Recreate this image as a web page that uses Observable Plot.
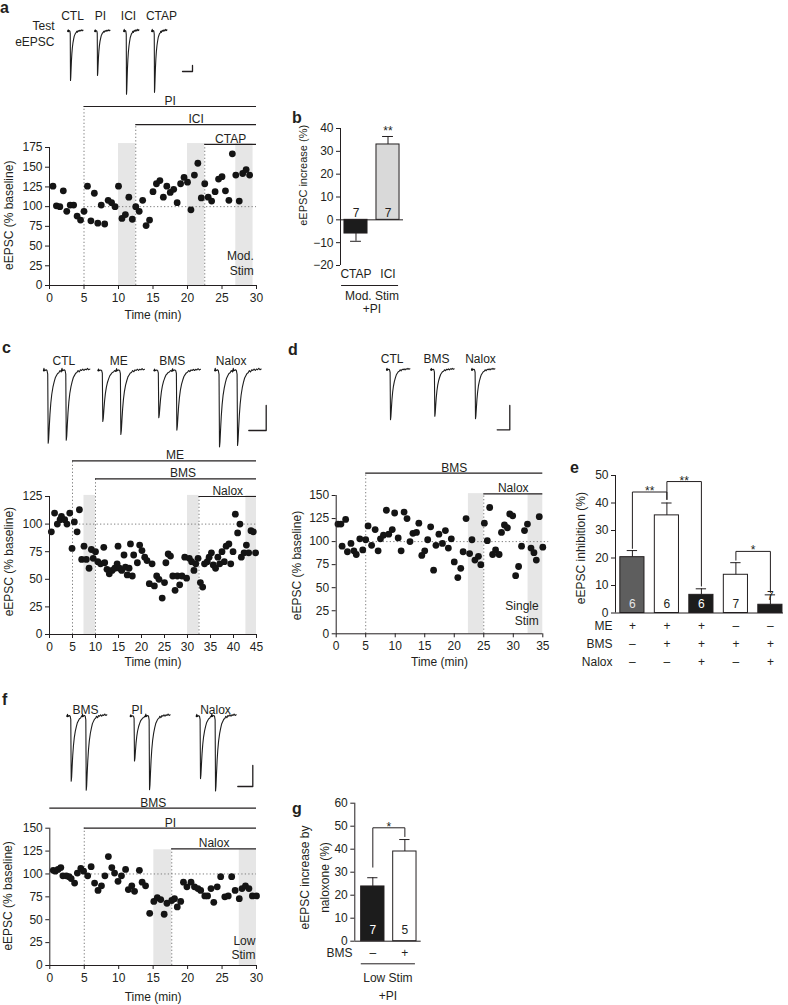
<!DOCTYPE html>
<html><head><meta charset="utf-8">
<script src="https://cdn.jsdelivr.net/npm/d3@7"></script>
<script src="https://cdn.jsdelivr.net/npm/@observablehq/plot@0.6"></script>
<style>
html,body{margin:0;padding:0;background:#fff;}
#fig{position:relative;width:788px;height:1005px;overflow:hidden;background:#fff;font-family:"Liberation Sans",Arial,Helvetica,sans-serif;color:#231f20;}
.letter{position:absolute;font-weight:bold;font-size:16px;line-height:1;}
</style></head><body><div id="fig"></div>
<script>
// ---------- waveform template (fraction of peak amplitude) ----------
const traceTime  = [-4,-3.6,-3.2,-2.6,-1.8,-1.0,-0.4,0,0.4,0.9,1.5,2.2,3.0,4.0,5.0,6.0,7.0,8.0,9.0,10.0,11.0,12.0,13.0,14.0,15.0,16.0,17.0,18.0,19.0,20.0];
const traceShape = [0,0.03,0,0,0.01,0,-0.05,-1,-0.94,-0.78,-0.6,-0.45,-0.33,-0.23,-0.16,-0.1,-0.07,-0.04,-0.03,0,-0.02,0.01,0,0.02,0,0.02,0.01,0.03,0.01,0.02];

// ---------- panel a ----------
const aTraceLabels = ["CTL","PI","ICI","CTAP"];
const aTraceAmp = [[100],[90],[128],[124]];
const aTime = [0.5,1,1.5,2,2.5,3,3.5,4,4.5,5,5.5,6,6.5,7,7.5,8,8.5,9,9.5,10,10.5,11,11.5,12,12.5,13,13.5,14,14.5,15,15.5,16,16.5,17,17.5,18,18.5,19,19.5,20,20.5,21,21.5,22,22.5,23,23.5,24,24.5,25,25.5,26,26.5,27,27.5,28,28.5,29];
const aValue = [126,101,100,120,94,102,102,88,83,94,126,82,117,79,102,78,108,105,100,126,85,90,112,84,100,94,108,76,83,119,129,133,112,126,118,122,105,129,137,131,96,140,155,111,129,112,107,119,135,138,120,108,167,140,107,142,147,140];
const aShadeStart = [10,20,27], aShadeEnd = [12.5,22.5,29.5];
const aDrugs = ["PI","ICI","CTAP"], aDrugStart = [5,12.5,22.5];
const aXTicks = [0,5,10,15,20,25,30], aYTicks = [0,25,50,75,100,125,150,175];

// ---------- panel b ----------
const bCats = ["CTAP","ICI"], bMean = [-6,33], bSem = [3.4,3.5], bN = [7,7], bSig = ["","**"];
const bYTicks = [-20,-10,0,10,20,30,40];

// ---------- panel c ----------
const cTraceLabels = ["CTL","ME","BMS","Nalox"];
const cTraceAmp = [[100,96],[70,88],[65,82],[105,103]];
const cTime = [0.4,1.1,1.7,2.3,2.6,3.3,3.8,4.4,4.9,5.4,6.0,6.5,7.0,7.5,8.0,8.6,9.1,9.5,10.0,10.5,11.1,11.8,12.0,12.5,13.0,13.6,14.2,14.7,14.9,15.2,15.7,16.2,16.5,16.9,17.3,17.6,18.0,18.3,19.1,19.6,20.1,20.7,21.2,21.7,22.3,22.8,23.3,23.8,24.5,25.0,25.3,25.8,26.3,26.8,27.3,27.8,28.3,28.8,29.4,29.8,30.4,30.9,31.4,31.8,32.3,32.8,33.3,33.7,34.3,34.7,35.2,35.6,36.1,36.6,37.0,37.5,38.0,38.4,39.0,39.4,39.9,40.4,40.9,41.4,41.7,42.3,42.8,43.3,43.8,44.3,44.8];
const cValue = [93,110,100,104,107,104,100,110,78,102,93,113,68,80,68,60,77,69,75,66,64,79,65,59,55,58,60,64,80,60,58,72,61,54,60,82,53,72,65,81,76,70,67,46,64,44,53,50,33,47,65,73,71,53,40,53,45,53,70,51,69,66,58,64,69,47,43,64,66,70,74,63,60,70,64,75,66,80,82,64,75,109,92,100,70,74,81,74,94,93,74];
const cShadeStart = [7.5,30,42.7], cShadeEnd = [10,32.5,45];
const cDrugs = ["ME","BMS","Nalox"], cDrugStart = [5,10,32.5];
const cXTicks = [0,5,10,15,20,25,30,35,40,45], cYTicks = [0,25,50,75,100,125];

// ---------- panel d ----------
const dTraceLabels = ["CTL","BMS","Nalox"];
const dTraceAmp = [[100],[93],[98]];
const dTime = [0.3,0.8,1.0,1.6,1.9,2.5,3.0,3.4,4.0,4.5,5.0,5.4,6.0,6.6,7.1,7.5,8.0,8.5,8.9,9.5,9.9,10.5,11.0,11.5,12.0,12.5,13.0,13.6,14.0,14.5,15.0,15.5,16.0,16.5,16.9,17.4,18.0,18.5,19.0,19.5,20.0,20.6,21.1,21.5,22.0,22.6,23.0,23.5,24.1,24.5,25.1,25.6,26.0,26.5,27.0,27.6,28.0,28.5,29.0,29.4,29.9,30.4,30.9,31.4,31.9,32.4,33.0,33.5,33.9,34.4,35.0];
const dValue = [119,119,95,124,89,98,90,86,103,91,102,117,96,113,90,103,107,134,108,113,131,104,90,132,125,100,109,110,120,85,90,102,116,69,96,108,98,112,93,103,78,61,71,89,125,87,102,80,84,75,120,101,137,86,91,86,110,118,115,130,128,63,73,95,112,119,93,88,80,127,94];
const dShadeStart = [22.4,32.5], dShadeEnd = [25,35];
const dDrugs = ["BMS","Nalox"], dDrugStart = [5,25];
const dXTicks = [0,5,10,15,20,25,30,35], dYTicks = [0,25,50,75,100,125,150];

// ---------- panel e ----------
const eMean = [20.3,35.5,6.6,13.9,3], eSem = [2.4,4.5,2.2,4.4,3.6], eN = [6,6,6,7,7];
const eME = ["+","+","+","–","–"], eBMS = ["–","+","+","+","+"], eNalox = ["–","–","+","–","+"];
const eBrFrom = [0,1,3], eBrTo = [1,2,4], eBrTop = [44,47.8,22.4], eBrLegFrom = [23.5,41.3,19.2], eBrLegTo = [41.3,9.8,7.5], eBrStar = ["**","**","*"];
const eYTicks = [0,10,20,30,40,50];

// ---------- panel f ----------
const fTraceLabels = ["BMS","PI","Nalox"];
const fTraceAmp = [[100,114],[69,113],[96,115]];
const fTime = [0.5,0.8,1.2,1.6,1.9,2.4,2.8,3.1,3.6,4.0,4.5,4.9,5.5,6.0,6.5,7.0,7.5,8.0,8.5,9.0,9.4,9.9,10.4,11.0,11.4,11.9,12.3,13.0,13.4,13.9,14.5,15.1,15.6,16.1,16.6,17.0,17.7,18.1,18.5,19.0,19.4,19.9,20.5,21.0,21.5,21.9,22.5,22.9,23.4,23.8,24.3,24.8,25.4,25.9,26.4,26.9,27.5,27.9,28.4,28.9,29.4,30.0];
const fValue = [104,103,105,107,98,98,97,95,90,101,106,103,98,108,90,82,87,98,119,107,101,92,98,105,83,87,81,104,91,87,57,70,74,72,56,68,71,73,64,70,91,86,91,86,84,82,76,76,84,69,86,97,75,76,97,82,73,84,87,84,76,76];
const fShadeStart = [15.1,27.5], fShadeEnd = [17.7,30];
const fDrugs = ["BMS","PI","Nalox"], fDrugStart = [0,5,17.7];
const fXTicks = [0,5,10,15,20,25,30], fYTicks = [0,25,50,75,100,125,150];

// ---------- panel g ----------
const gMean = [23.8,39], gSem = [3.8,5.2], gN = [7,5], gBMS = ["–","+"];
const gBrFrom = [0], gBrTo = [1], gBrTop = [49.3], gBrLegFrom = [32.2], gBrLegTo = [45.5], gBrStar = ["*"];
const gYTicks = [0,10,20,30,40,50,60];

// ================= rendering =================
const FONT = '"Liberation Sans", Arial, Helvetica, sans-serif';
const INK = "#231f20", SHADE = "#e6e6e6", DOT = "#808080";
const fig = document.getElementById("fig");
const baseStyle = {fontFamily: FONT, fontSize: "12px", color: INK, background: "transparent", overflow: "visible"};
function place(el, left, top){ el.style.position="absolute"; el.style.left=left+"px"; el.style.top=top+"px"; fig.appendChild(el); }

function traceRow(o){
  const b = o.baseline - o.top;
  const toX = px => (px - o.left)/o.pxPerMs;
  const toY = py => (o.baseline - py)/o.pxPerUnit;
  const pts = [], arts = [];
  o.labels.forEach((lab,g)=>{
    const amps = o.amps[g], off = toX(o.dipPx[g]);
    amps.forEach((amp,k)=>{
      const t0 = off + k*o.isi;
      traceTime.forEach((t,j)=>{
        if (k < amps.length-1 && t >= o.isi + traceTime[0]) return;
        pts.push({x:t0+t, y:traceShape[j]*amp, g:lab});
      });
      arts.push({x:t0+traceTime[1], y:0});
    });
  });
  const labels = o.labels.map((l,g)=>({l, x:toX(o.labelPx[g])}));
  const sb = o.bar;
  const bar = [{x:toX(sb.x-sb.w),y:toY(sb.y)},{x:toX(sb.x),y:toY(sb.y)},{x:toX(sb.x),y:toY(sb.y-sb.h)}];
  const marks = [
    Plot.line(pts,{x:"x",y:"y",z:"g",stroke:"#1e1e1e",strokeWidth:1.1}),
    Plot.dot(arts,{x:"x",y:"y",r:1.1,fill:"#111"}),
    Plot.text(labels,{x:"x",y:toY(o.labelY),text:"l"}),
    Plot.line(bar,{x:"x",y:"y",stroke:INK,strokeWidth:1.3})
  ];
  if (o.note) marks.push(Plot.text([o.note.text],{x:toX(o.note.x),y:toY(o.note.y),textAnchor:"end",lineHeight:o.note.lh,text:d=>d}));
  const svg = Plot.plot({width:o.width,height:o.height,margin:0,style:baseStyle,
    x:{domain:[0,o.width/o.pxPerMs],axis:null},
    y:{domain:[-(o.height-b)/o.pxPerUnit,b/o.pxPerUnit],axis:null},marks});
  place(svg,o.left,o.top);
}

function scatterPanel(o){
  const pts = o.t.map((t,i)=>({t, v:o.v[i]}));
  const drugs = o.drugs.map((name,i)=>({name, start:o.drugStart[i], end:o.xMax, level:o.drugLevel[i],
    lx:(o.drugLabelX && o.drugLabelX[i]!=null) ? o.drugLabelX[i] : (o.drugStart[i]+o.xMax)/2}));
  const shades = o.shadeStart.map((s,i)=>({x1:s, x2:o.shadeEnd[i]}));
  const svg = Plot.plot({
    width:o.width, height:o.height, marginLeft:o.ml, marginRight:o.mr, marginTop:o.mt, marginBottom:o.mb,
    style:baseStyle, x:{domain:[0,o.xMax]}, y:{domain:[0,o.yMax]},
    marks:[
      Plot.rectY(shades,{x1:"x1",x2:"x2",y1:0,y2:o.shadeTop,fill:SHADE}),
      Plot.ruleX(drugs.filter(d=>d.start>0),{x:"start",y1:0,y2:"level",stroke:DOT,strokeDasharray:"1.3,2.2"}),
      Plot.ruleY([100],{x1:o.refFrom,x2:o.refTo,stroke:DOT,strokeDasharray:"1.3,2.2"}),
      Plot.ruleY(drugs,{y:"level",x1:"start",x2:"end",stroke:INK,strokeWidth:1.2}),
      Plot.text(drugs,{x:"lx",y:"level",text:"name",lineAnchor:"bottom",dy:-1.5}),
      Plot.dot(pts,{x:"t",y:"v",r:3.4,fill:"#141414"}),
      Plot.ruleX([0],{y1:0,y2:o.yMax,stroke:INK}),
      Plot.ruleY([0],{x1:0,x2:o.xMax,stroke:INK}),
      Plot.axisX(o.xTicks,{tickSize:4,tickPadding:4,label:null}),
      Plot.axisY(o.yTicks,{tickSize:4,tickPadding:3,label:null}),
      Plot.text([o.xLabel],{frameAnchor:"bottom",dy:o.xLabelDy,text:d=>d}),
      Plot.text([o.yLabel],{x:0,y:o.yLabelY,dx:o.yLabelDx,rotate:-90,textAnchor:"middle",lineAnchor:"middle",text:d=>d}),
      Plot.text([o.note],{x:o.noteX,y:o.noteY,textAnchor:"end",lineHeight:1.25,text:d=>d})
    ]
  });
  place(svg,o.left,o.top);
}

function barPanel(o){
  const rows = o.mean.map((m,i)=>({i, m, s:o.sem[i], n:o.n[i], fill:o.fill[i], nc:o.nColor[i]}));
  rows.forEach(d=>{ d.e = d.m + Math.sign(d.m)*d.s; });
  const hw = o.barHalf, cap = o.capHalf, x0 = o.xDom[0];
  const marks = [
    Plot.rectY(rows,{x1:d=>d.i-hw,x2:d=>d.i+hw,y1:0,y2:"m",fill:"fill",stroke:INK,strokeWidth:1}),
    Plot.ruleX(rows,{x:"i",y1:"m",y2:"e",stroke:INK}),
    Plot.ruleY(rows,{y:"e",x1:d=>d.i-cap,x2:d=>d.i+cap,stroke:INK}),
    Plot.ruleY([0],{x1:o.xDom[0],x2:o.xDom[1],stroke:INK}),
    Plot.ruleX([x0],{y1:o.yDom[0],y2:o.yDom[1],stroke:INK}),
    Plot.axisY(o.yTicks,{tickSize:4,tickPadding:3,label:null}),
    Plot.text(rows,{x:"i",y:d=>(d.m>0 && d.m<o.smallBar)?d.m:0,text:"n",fill:"nc",dy:o.nDy}),
    Plot.text([o.yLabel],{x:x0,y:o.yLabelY,dx:o.yLabelDx,rotate:-90,textAnchor:"middle",lineAnchor:"middle",
      lineHeight:o.yLabelLH||1.2,fontSize:o.yLabelSize||12,text:d=>d})
  ];
  if (o.sig) marks.push(Plot.text(rows.filter(d=>o.sig[d.i]),{x:"i",y:"e",text:d=>o.sig[d.i],lineAnchor:"bottom",dy:o.sigDy}));
  if (o.br){
    const segs = [];
    o.br.from.forEach((f,k)=>{
      const t = o.br.to[k], top = o.br.top[k];
      segs.push({k,x:f,y:o.br.legFrom[k]},{k,x:f,y:top},{k,x:t,y:top},{k,x:t,y:o.br.legTo[k]});
    });
    marks.push(Plot.line(segs,{x:"x",y:"y",z:"k",stroke:INK,strokeWidth:1}));
    marks.push(Plot.text(o.br.from.map((f,k)=>({x:(f+o.br.to[k])/2,y:o.br.top[k],s:o.br.star[k]})),
      {x:"x",y:"y",text:"s",lineAnchor:"bottom",dy:o.starDy}));
  }
  if (o.cats) marks.push(Plot.text(rows,{x:"i",y:o.yDom[0],text:d=>o.cats[d.i],dy:o.catDy}));
  (o.signRows||[]).forEach(r=>{
    marks.push(Plot.text(rows,{x:"i",y:0,text:d=>r.values[d.i],dy:r.dy}));
    marks.push(Plot.text([r.name],{x:x0,y:0,text:d=>d,textAnchor:"end",dx:r.dx,dy:r.dy}));
  });
  if (o.group){
    const g = o.group;
    marks.push(Plot.ruleY([o.yDom[0]],{x1:g.x1,x2:g.x2,dy:g.ruleDy,stroke:INK}));
    marks.push(Plot.text([g.text],{x:g.cx,y:o.yDom[0],text:d=>d,lineAnchor:"top",dy:g.textDy,lineHeight:g.lh}));
  }
  const svg = Plot.plot({width:o.width,height:o.height,marginLeft:o.ml,marginRight:o.mr,marginTop:o.mt,marginBottom:o.mb,
    style:baseStyle, color:{type:"identity"}, x:{domain:o.xDom,axis:null}, y:{domain:o.yDom}, marks});
  place(svg,o.left,o.top);
}

// ---- panel a ----
traceRow({left:0,top:0,width:270,height:100,baseline:30.7,pxPerMs:0.625,pxPerUnit:0.493,isi:0,
  labels:aTraceLabels,amps:aTraceAmp,dipPx:[70,97,126,154],labelPx:[72,100,128,161],labelY:16,
  bar:{x:192,y:71,w:10,h:6},note:{text:"Test\neEPSC",x:54,y:32,lh:1.33}});
scatterPanel({left:0,top:85,width:265,height:240,ml:49,mr:9,mt:62,mb:40,
  t:aTime,v:aValue,xMax:30,yMax:175,xTicks:aXTicks,yTicks:aYTicks,
  shadeStart:aShadeStart,shadeEnd:aShadeEnd,shadeTop:180,
  drugs:aDrugs,drugStart:aDrugStart,drugLevel:[227,204,179],refFrom:5,refTo:30,
  xLabel:"Time (min)",xLabelDy:33,yLabel:"eEPSC (% baseline)",yLabelDx:-40,yLabelY:89,
  note:"Mod.\nStim",noteX:29.6,noteY:28.5});

// ---- panel b ----
barPanel({left:270,top:115,width:140,height:205,ml:70,mr:7,mt:13,mb:55,
  xDom:[-0.484,1.484],yDom:[-20,40],yTicks:bYTicks,mean:bMean,sem:bSem,n:bN,
  fill:["#1c1c1c","#d9d9d9"],nColor:[INK,INK],barHalf:0.36,capHalf:0.17,smallBar:0,nDy:-7,
  sig:bSig,sigDy:-1,cats:bCats,catDy:9,
  yLabel:"eEPSC increase (%)",yLabelDx:-38,yLabelY:19.5,yLabelSize:11,
  group:{text:"Mod. Stim\n+PI",x1:-0.45,x2:1.33,cx:0.5,ruleDy:20,textDy:25,lh:1.1}});

// ---- panel c ----
traceRow({left:0,top:340,width:280,height:110,baseline:370,pxPerMs:1.18,pxPerUnit:0.727,isi:15.3,
  labels:cTraceLabels,amps:cTraceAmp,dipPx:[47.7,102.3,158.3,219],labelPx:[63.3,118.3,171.7,230.7],labelY:360.7,
  bar:{x:265.7,y:430,w:17.4,h:25}});
scatterPanel({left:0,top:440,width:265,height:240,ml:49,mr:9,mt:56,mb:46,
  t:cTime,v:cValue,xMax:45,yMax:125,xTicks:cXTicks,yTicks:cYTicks,
  shadeStart:cShadeStart,shadeEnd:cShadeEnd,shadeTop:126,
  drugs:cDrugs,drugStart:cDrugStart,drugLevel:[157.3,141,125],drugLabelX:[27.3,29,null],refFrom:5,refTo:45,
  xLabel:"Time (min)",xLabelDy:31.7,yLabel:"eEPSC (% baseline)",yLabelDx:-40.5,yLabelY:66,
  note:"",noteX:45,noteY:20});

// ---- panel d ----
traceRow({left:285,top:340,width:250,height:100,baseline:369.3,pxPerMs:0.97,pxPerUnit:0.5,isi:0,
  labels:dTraceLabels,amps:dTraceAmp,dipPx:[390,434.3,475],labelPx:[391.7,436,480],labelY:359,
  bar:{x:509.3,y:429.3,w:12.6,h:24.3}});
scatterPanel({left:287,top:450,width:265,height:240,ml:48.7,mr:9.7,mt:45,mb:56.7,
  t:dTime,v:dValue,xMax:35,yMax:150,xTicks:dXTicks,yTicks:dYTicks,
  shadeStart:dShadeStart,shadeEnd:dShadeEnd,shadeTop:152,
  drugs:dDrugs,drugStart:dDrugStart,drugLevel:[174.2,151.8],refFrom:5,refTo:36,
  xLabel:"Time (min)",xLabelDy:31.7,yLabel:"eEPSC (% baseline)",yLabelDx:-39,yLabelY:74,
  note:"Single\nStim",noteX:34.3,noteY:23});

// ---- panel e ----
barPanel({left:540,top:465,width:248,height:210,ml:75,mr:5,mt:10,mb:62.5,
  xDom:[-0.49,4.38],yDom:[0,50],yTicks:eYTicks,mean:eMean,sem:eSem,n:eN,
  fill:["#5e5e5e","#ffffff","#1c1c1c","#ffffff","#1c1c1c"],nColor:["#e6e6e6",INK,"#ffffff",INK,INK],
  barHalf:0.35,capHalf:0.15,smallBar:5,nDy:-8.5,
  br:{from:eBrFrom,to:eBrTo,top:eBrTop,legFrom:eBrLegFrom,legTo:eBrLegTo,star:eBrStar},starDy:3,
  yLabel:"eEPSC inhibition (%)",yLabelDx:-35,yLabelY:23.6,
  signRows:[{name:"ME",values:eME,dy:13,dx:-3},{name:"BMS",values:eBMS,dy:31.5,dx:-3},{name:"Nalox",values:eNalox,dy:49,dx:-3}]});

// ---- panel f ----
traceRow({left:0,top:695,width:280,height:105,baseline:715.7,pxPerMs:1.03,pxPerUnit:0.65,isi:14.6,
  labels:fTraceLabels,amps:fTraceAmp,dipPx:[70.7,134,200],labelPx:[85,136.7,215],labelY:709.3,
  bar:{x:252.3,y:786,w:15,h:21}});
scatterPanel({left:0,top:785,width:265,height:220,ml:49.3,mr:9,mt:42.7,mb:40,
  t:fTime,v:fValue,xMax:30,yMax:150,xTicks:fXTicks,yTicks:fYTicks,
  shadeStart:fShadeStart,shadeEnd:fShadeEnd,shadeTop:126.4,
  drugs:fDrugs,drugStart:fDrugStart,drugLevel:[171.9,150,127.5],refFrom:5,refTo:30,
  xLabel:"Time (min)",xLabelDy:35.7,yLabel:"eEPSC (% baseline)",yLabelDx:-42,yLabelY:76,
  note:"Low\nStim",noteX:29.85,noteY:20});

// ---- panel g ----
barPanel({left:290,top:790,width:140,height:215,ml:64.3,mr:9.3,mt:12.7,mb:64.3,
  xDom:[-0.5625,1.51],yDom:[0,60],yTicks:gYTicks,mean:gMean,sem:gSem,n:gN,
  fill:["#1c1c1c","#ffffff"],nColor:["#ffffff",INK],barHalf:0.364,capHalf:0.16,smallBar:0,nDy:-10.7,
  br:{from:gBrFrom,to:gBrTo,top:gBrTop,legFrom:gBrLegFrom,legTo:gBrLegTo,star:gBrStar},starDy:3,
  yLabel:"eEPSC increase by\nnaloxone (%)",yLabelDx:-42.6,yLabelY:27.7,yLabelLH:1.67,
  signRows:[{name:"BMS",values:gBMS,dy:12.3,dx:-2.3}],
  group:{text:"Low Stim\n+PI",x1:-0.36,x2:1.33,cx:0.47,ruleDy:22.6,textDy:28.3,lh:1.475}});

// ---- panel letters ----
[["a",0,0],["b",292,109.5],["c",2,339.5],["d",288,341.5],["e",570,459.5],["f",2,691.5],["g",292,800.5]].forEach(([t,x,y])=>{
  const d=document.createElement("div"); d.className="letter"; d.textContent=t; d.style.left=x+"px"; d.style.top=y+"px"; fig.appendChild(d);
});
</script></body></html>
